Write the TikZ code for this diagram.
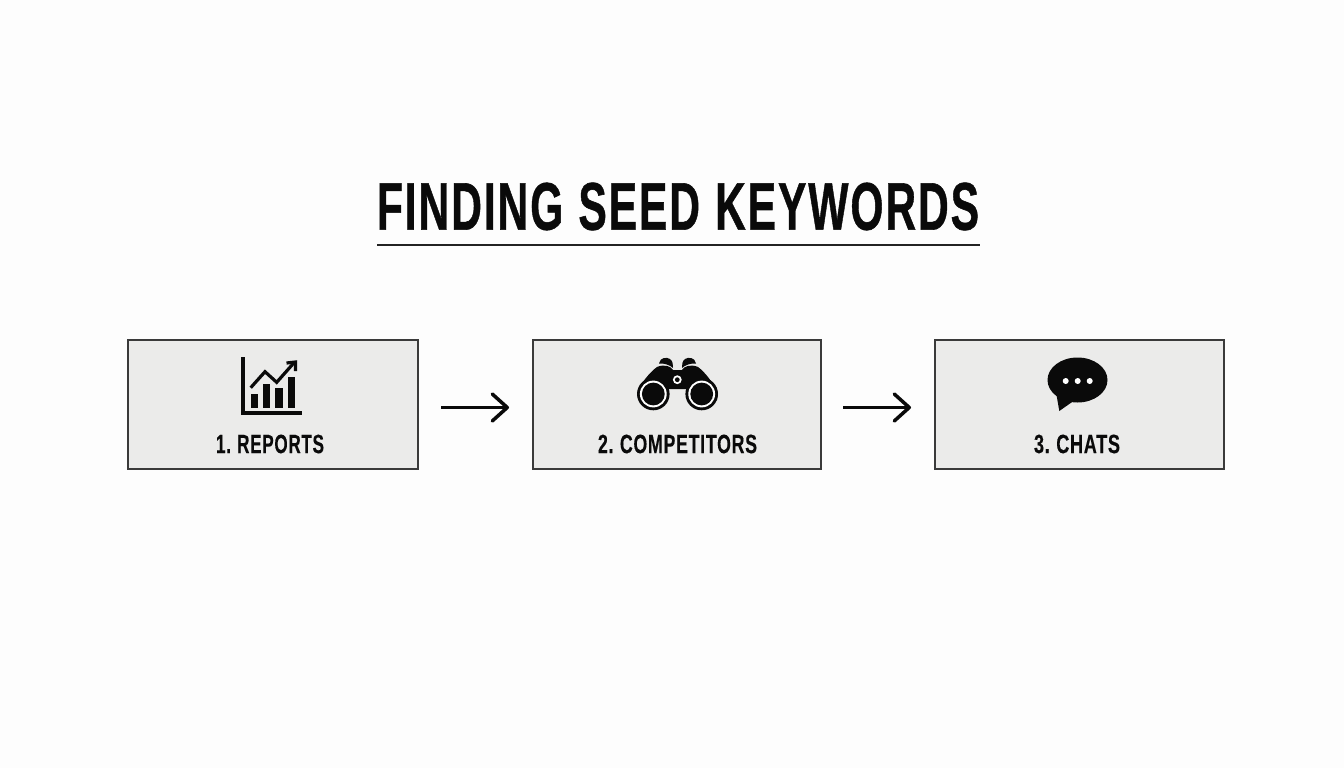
\documentclass[tikz,border=0pt]{standalone}
\usepackage{graphicx}
\usepackage{fontspec}
\setmainfont{Liberation Sans}[BoldFont={Liberation Sans Bold}]
\newfontfamily\headfont{Liberation Sans Bold}[LetterSpace=4.5,WordSpace=1.1,FakeBold=0.9]
\newfontfamily\labelfont{Liberation Sans Bold}[LetterSpace=4,WordSpace=0.8,FakeBold=0.3]
\usetikzlibrary{arrows.meta}
\definecolor{pagebg}{HTML}{FDFDFD}
\definecolor{boxfill}{HTML}{EBEBEA}
\definecolor{boxline}{HTML}{3A3A3A}
\definecolor{ink}{HTML}{0A0A0A}
\tikzset{
  stepbox/.style={draw=boxline,line width=1.7pt,fill=boxfill,minimum height=129pt,inner sep=0pt,outer sep=0pt,anchor=north west},
  flowarrow/.style={draw=ink,line width=3.3pt,shorten >=24pt,-{Straight Barb[length=15pt,width=27pt,line width=3.5pt,round]}},
  steplabel/.style={inner sep=0pt,text=ink,anchor=center},
  iconline/.style={draw=ink,line cap=butt,line width=3.2pt},
}
\newcommand{\stepname}[2]{\resizebox{#1pt}{18.5pt}{\labelfont #2}}
\begin{document}
\begin{tikzpicture}[x=1pt,y=-1pt]
\useasboundingbox (0,0) rectangle (1344,768);
\fill[pagebg] (0,0) rectangle (1344,768);
% title
\node[inner sep=0pt,text=ink] (title) at (678,206.5) {\resizebox{602pt}{47pt}{\headfont FINDING SEED KEYWORDS}};
\coordinate (ruleL) at (377,245);
\coordinate (ruleR) at (980,245);
\draw[draw=ink!90,line width=2pt] (ruleL) -- (ruleR);
% boxes
\node[stepbox,minimum width=290pt] (a) at (128,340) {};
\node[stepbox,minimum width=288pt] (b) at (533,340) {};
\node[stepbox,minimum width=289pt] (c) at (935,340) {};
% labels
\node[steplabel] (la) at (270,444) {\stepname{108}{1. REPORTS}};
\node[steplabel] (lb) at (677.5,444) {\stepname{159}{2. COMPETITORS}};
\node[steplabel] (lc) at (1077,444) {\stepname{86}{3. CHATS}};
% arrows
\draw[flowarrow,shorten <=23pt] ([yshift=-3pt]a.east) -- ([yshift=-3pt]b.west);
\draw[flowarrow,shorten <=22pt] ([yshift=-3pt]b.east) -- ([yshift=-3pt]c.west);
% chart icon
\draw[iconline] (243,357) -- (243,413) -- (302,413);
\fill[ink] (250.7,394) rectangle (258.3,407.6);
\fill[ink] (262.7,384) rectangle (270.3,407.6);
\fill[ink] (275,387.7) rectangle (282.7,407.6);
\fill[ink] (287.7,376.7) rectangle (295.3,407.6);
\draw[iconline] (250.7,387.7) -- (265,371.7) -- (276.7,382.3) -- (293.5,363.3);
\draw[iconline] (286.5,363) -- (295.5,362) -- (295.5,371);
% binoculars icon
\fill[ink] (638,392) .. controls (640,384) and (650,372) .. (657,367)
  .. controls (664,364) and (671,366) .. (673,370) -- (682,370)
  .. controls (684,366) and (691,364) .. (698,367)
  .. controls (705,372) and (714,384) .. (717,392)
  -- (717,400) -- (690,389) -- (665,389) -- (638,400) -- cycle;
\fill[ink] (659,363.5) .. controls (660,357) and (667,357) .. (670,359)
  .. controls (673,361) and (673,365) .. (673,368)
  .. controls (670,365) and (664,363) .. (659,363.5) -- cycle;
\fill[ink] (696,363.5) .. controls (695,357) and (688,357) .. (685,359)
  .. controls (682,361) and (682,365) .. (682,368)
  .. controls (685,365) and (691,363) .. (696,363.5) -- cycle;
\foreach \cx in {653.3,701.7}{
  \fill[ink] (\cx,394) circle[radius=16.3];
  \fill[white] (\cx,394) circle[radius=13.4];
  \fill[ink] (\cx,394) circle[radius=11.4];
}
\fill[white] (677.3,379.7) circle[radius=4.4];
\fill[ink] (677.3,379.7) circle[radius=2.4];
% chat icon
\fill[ink] (1077.5,380) ellipse[x radius=30,y radius=22.5];
\fill[ink] (1056,392) -- (1059.3,411) -- (1075,400) -- cycle;
\foreach \dx in {1065.7,1077.7,1089.7}{
  \fill[white] (\dx,381) circle[radius=3];
}
\end{tikzpicture}
\end{document}
